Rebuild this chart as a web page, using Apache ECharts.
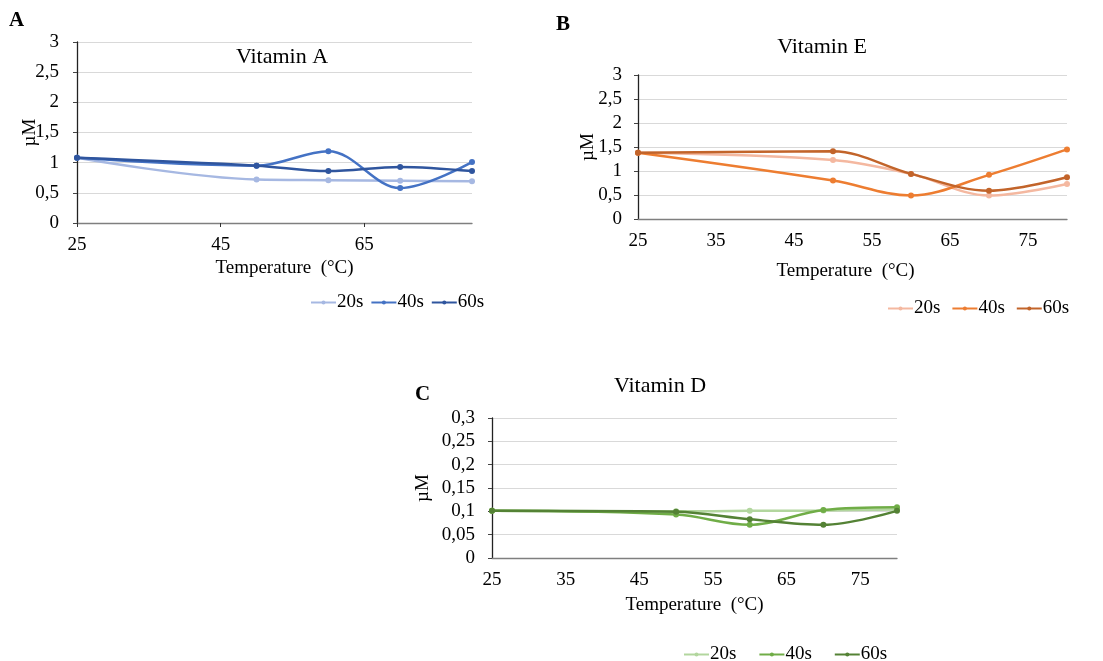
<!DOCTYPE html>
<html>
<head>
<meta charset="utf-8">
<script src="https://cdn.jsdelivr.net/npm/echarts@6/dist/echarts.min.js"></script>
<style>
html,body{margin:0;padding:0;background:#fff;}
#chart{width:1103px;height:661px;}
</style>
</head>
<body>
<div id="chart"></div>
<script>
// ---- data ----
const temps = [25, 50, 60, 70, 80];
const seriesNames = ['20s', '40s', '60s'];

const vitA_20s = [1.08, 0.72, 0.71, 0.70, 0.69];
const vitA_40s = [1.08, 0.95, 1.19, 0.58, 1.01];
const vitA_60s = [1.08, 0.95, 0.86, 0.93, 0.86];

const vitE_20s = [1.38, 1.23, 0.94, 0.49, 0.73];
const vitE_40s = [1.38, 0.80, 0.49, 0.92, 1.45];
const vitE_60s = [1.38, 1.41, 0.94, 0.59, 0.87];

const vitD_20s = [0.101, 0.100, 0.101, 0.102, 0.104];
const vitD_40s = [0.101, 0.093, 0.071, 0.103, 0.109];
const vitD_60s = [0.101, 0.099, 0.083, 0.071, 0.101];

const xTicksA = [25, 45, 65];
const xTicksBC = [25, 35, 45, 55, 65, 75];

const titles = ['Vitamin A', 'Vitamin E', 'Vitamin D'];
const panelLetters = ['A', 'B', 'C'];
const xName = 'Temperature  (°C)';
const yName = 'µM';

// ---- styling ----
const FONT = '"Liberation Serif", "Times New Roman", serif';
const colorsA = ['#A6B8E2', '#4472C4', '#2F559E'];
const colorsE = ['#F4B8A0', '#ED7D31', '#C2642A'];
const colorsD = ['#B2D69E', '#70AD47', '#548235'];

function pairs(arr) { return temps.map((t, i) => [t, arr[i]]); }
function commaFmt(v) { return String(+v.toFixed(2)).replace('.', ','); }

const panels = [
  { key: 'A', data: [vitA_20s, vitA_40s, vitA_60s], colors: colorsA, xticks: xTicksA,
    grid: { left: 77, right: 631, top: 42, bottom: 438 }, ymax: 3, yint: 0.5,
    title: { left: 282, top: 46 }, legend: { left: 310, top: 293, itemGap: 7 },
    xNameGap: 36, xNamePad: [0, 0, 0, 20], yNameGap: 37, yLabelMargin: 18 },
  { key: 'B', data: [vitE_20s, vitE_40s, vitE_60s], colors: colorsE, xticks: xTicksBC,
    grid: { left: 638, right: 36, top: 75, bottom: 442 }, ymax: 3, yint: 0.5,
    title: { left: 822, top: 36 }, legend: { left: 887, top: 299, itemGap: 11 },
    xNameGap: 43, xNamePad: [0, 0, 0, -14], yNameGap: 40, yLabelMargin: 16 },
  { key: 'C', data: [vitD_20s, vitD_40s, vitD_60s], colors: colorsD, xticks: xTicksBC,
    grid: { left: 492, right: 206, top: 418, bottom: 103 }, ymax: 0.3, yint: 0.05,
    title: { left: 660, top: 375 }, legend: { left: 683, top: 645, itemGap: 22 },
    xNameGap: 38, xNamePad: [0, 0, 0, 0], yNameGap: 59, yLabelMargin: 17 }
];

const option = {
  backgroundColor: '#fff',
  animation: false,
  textStyle: { fontFamily: FONT, color: '#000' },
  title: panels.map((p, i) => ({
    text: titles[i], left: p.title.left, top: p.title.top, textAlign: 'center', padding: 0,
    textStyle: { fontFamily: FONT, fontSize: 22, fontWeight: 'normal', color: '#000' }
  })),
  legend: panels.map((p, i) => ({
    data: seriesNames.map(n => p.key + ' ' + n),
    formatter: name => name.slice(2),
    left: p.legend.left, top: p.legend.top, itemGap: p.legend.itemGap,
    itemWidth: 25, itemHeight: 5, padding: 0, selectedMode: false,
    textStyle: { fontFamily: FONT, fontSize: 19, color: '#000', padding: [0, 0, 0, -4] }
  })),
  grid: panels.map(p => Object.assign({ containLabel: false }, p.grid)),
  xAxis: panels.map((p, i) => ({
    type: 'value', gridIndex: i, min: 25, max: 80,
    name: xName, nameLocation: 'middle', nameGap: p.xNameGap, nameMoveOverlap: false,
    nameTextStyle: { fontFamily: FONT, fontSize: 19, color: '#000', padding: p.xNamePad },
    axisLine: { show: true, lineStyle: { color: '#7F7F7F', width: 1.3 } },
    axisTick: { show: i === 0, length: 4, customValues: p.xticks, lineStyle: { color: '#333' } },
    axisLabel: { customValues: p.xticks, margin: 13, fontFamily: FONT, fontSize: 19, color: '#000' },
    splitLine: { show: false }
  })),
  yAxis: panels.map((p, i) => ({
    type: 'value', gridIndex: i, min: 0, max: p.ymax, interval: p.yint,
    name: yName, nameLocation: 'middle', nameGap: p.yNameGap, nameRotate: 90, nameMoveOverlap: false,
    nameTextStyle: { fontFamily: FONT, fontSize: 19, color: '#000' },
    axisLine: { show: true, lineStyle: { color: '#222', width: 1.3 } },
    axisTick: { show: true, length: 4, inside: false, lineStyle: { color: '#444' } },
    axisLabel: { margin: p.yLabelMargin, fontFamily: FONT, fontSize: 19, color: '#000', formatter: commaFmt },
    splitLine: { show: true, lineStyle: { color: '#D9D9D9', width: 1.2 } }
  })),
  series: [],
  graphic: [
    { type: 'text', left: 9, top: 10, style: { text: panelLetters[0], font: 'bold 21px ' + FONT, fill: '#000' } },
    { type: 'text', left: 556, top: 14, style: { text: panelLetters[1], font: 'bold 21px ' + FONT, fill: '#000' } },
    { type: 'text', left: 415, top: 384, style: { text: panelLetters[2], font: 'bold 21px ' + FONT, fill: '#000' } }
  ]
};

panels.forEach((p, i) => {
  p.data.forEach((arr, k) => {
    option.series.push({
      type: 'line', name: p.key + ' ' + seriesNames[k],
      xAxisIndex: i, yAxisIndex: i,
      data: pairs(arr), smooth: 0.35,
      symbol: 'circle', symbolSize: 6, showSymbol: true,
      lineStyle: { width: 2.5, color: p.colors[k] },
      itemStyle: { color: p.colors[k] },
      z: 2 + k
    });
  });
});

const chart = echarts.init(document.getElementById('chart'), null, { renderer: 'canvas' });
chart.setOption(option);
</script>
</body>
</html>
